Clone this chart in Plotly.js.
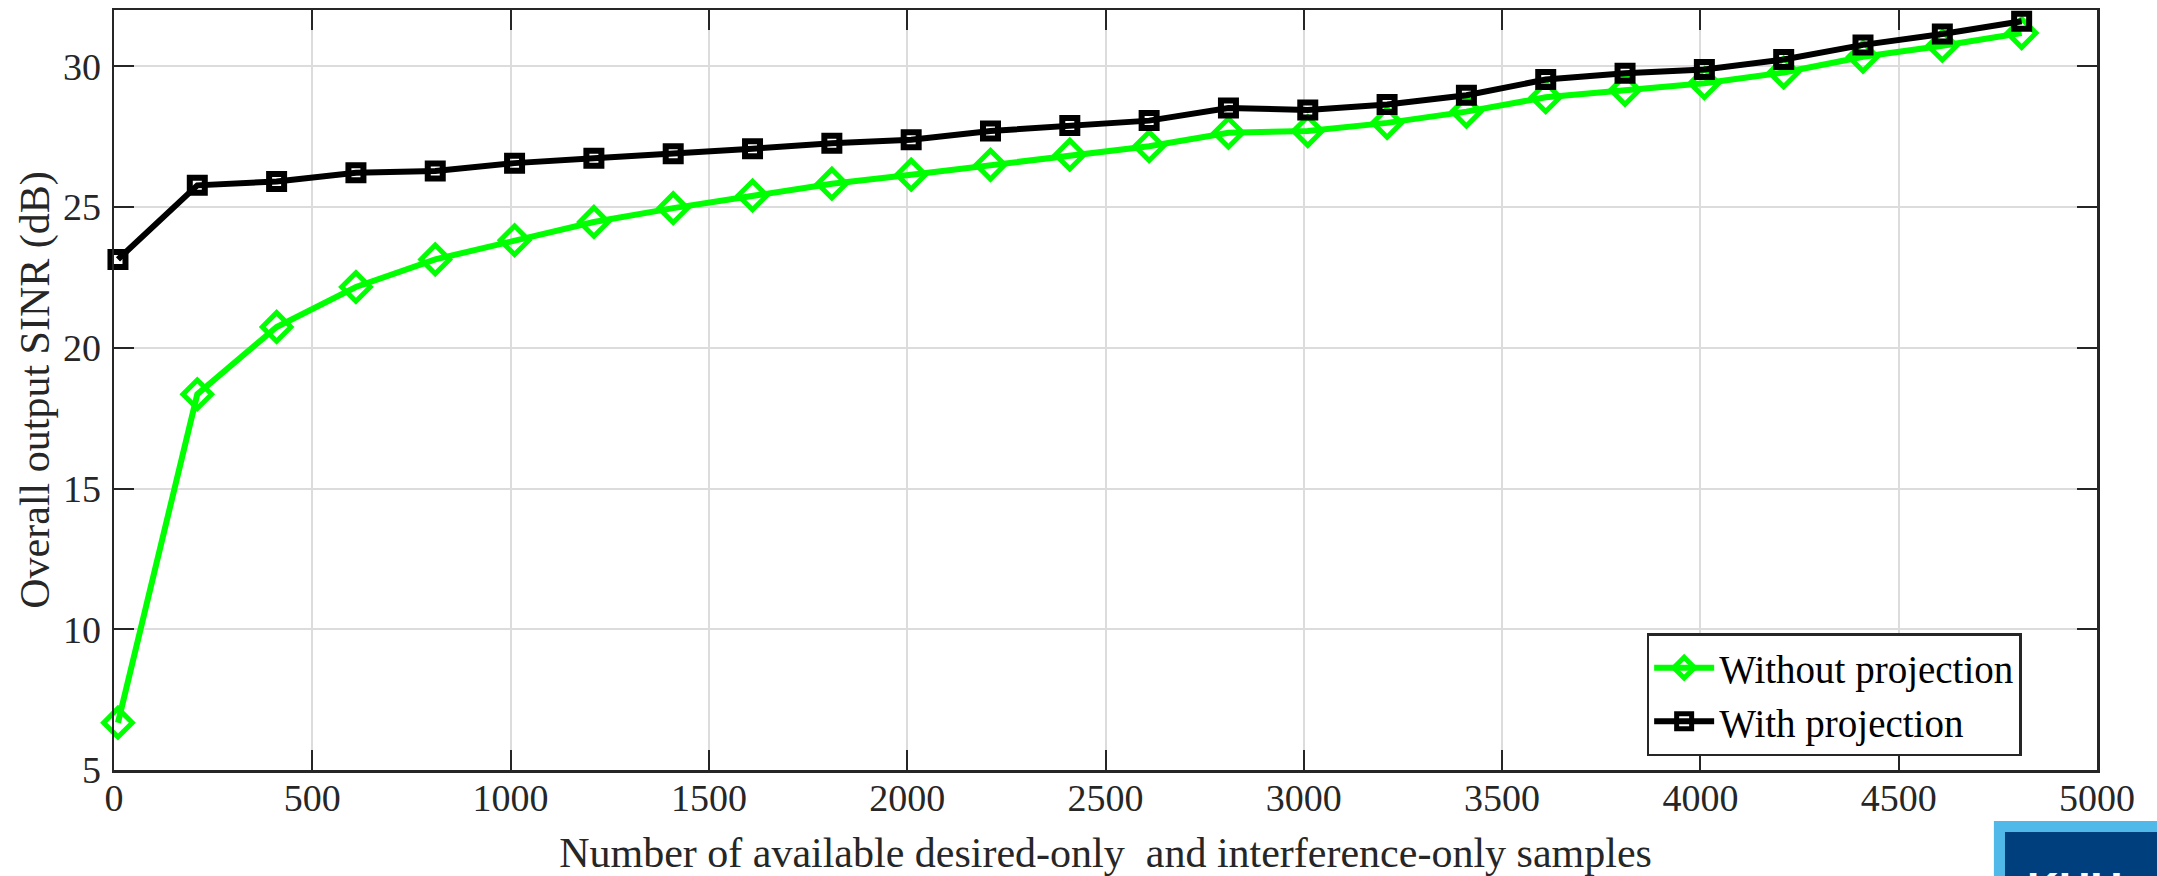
<!DOCTYPE html>
<html>
<head>
<meta charset="utf-8">
<script src="https://cdn.plot.ly/plotly-3.0.1.min.js"></script>
<style>
  html, body { margin: 0; padding: 0; background: #ffffff; }
  #chart { width: 2157px; height: 876px; }
</style>
</head>
<body>
<div id="chart"></div>
<script>
// Number of available samples (x values)
const samples = [10, 210, 410, 610, 810, 1010, 1210, 1410, 1610, 1810, 2010, 2210, 2410,
                 2610, 2810, 3010, 3210, 3410, 3610, 3810, 4010, 4210, 4410, 4610, 4810];

// Overall output SINR (dB)
const withoutProjection = [6.68, 18.35, 20.74, 22.16, 23.14, 23.82, 24.47, 24.96, 25.41, 25.83,
                           26.15, 26.50, 26.86, 27.16, 27.64, 27.70, 27.99, 28.39, 28.90, 29.16,
                           29.40, 29.78, 30.34, 30.73, 31.18];
const withProjection = [23.14, 25.77, 25.91, 26.22, 26.28, 26.56, 26.73, 26.89, 27.07, 27.27,
                        27.39, 27.70, 27.90, 28.07, 28.52, 28.45, 28.64, 28.97, 29.53, 29.75,
                        29.89, 30.24, 30.76, 31.15, 31.60];

const seriesNames = ["Without projection", "With projection"];
const xTicks = [0, 500, 1000, 1500, 2000, 2500, 3000, 3500, 4000, 4500, 5000];
const yTicks = [5, 10, 15, 20, 25, 30];
const xTitle = "Number of available desired-only\u00a0 and interference-only samples";
const yTitle = "Overall output SINR (dB)";

const serif = "Liberation Serif, Times New Roman, serif";
const axisColor = "#262626";

const traces = [
  {
    x: samples, y: withoutProjection, name: seriesNames[0],
    type: "scatter", mode: "lines+markers", cliponaxis: false,
    line: { color: "#00ff00", width: 6 },
    marker: { symbol: "diamond-open", size: 22, color: "#00ff00", line: { color: "#00ff00", width: 5 } }
  },
  {
    x: samples, y: withProjection, name: seriesNames[1],
    type: "scatter", mode: "lines+markers", cliponaxis: false,
    line: { color: "#000000", width: 6 },
    marker: { symbol: "square-open", size: 15, color: "#000000", line: { color: "#000000", width: 6 } }
  }
];

const axisCommon = {
  showline: true, linecolor: axisColor, linewidth: 2.5, mirror: "ticks",
  ticks: "inside", ticklen: 20, tickwidth: 2, tickcolor: axisColor,
  showgrid: true, gridcolor: "#dcdcdc", gridwidth: 2,
  zeroline: false, automargin: false,
  tickfont: { family: serif, size: 38, color: axisColor }
};

const layout = {
  width: 2157, height: 876,
  margin: { l: 114, r: 60, t: 10, b: 106 },
  paper_bgcolor: "#ffffff", plot_bgcolor: "#ffffff",
  showlegend: true,
  xaxis: Object.assign({}, axisCommon, {
    range: [0, 5000], tickvals: xTicks, ticktext: xTicks.map(String),
    ticklabelstandoff: -7,
    title: { text: xTitle, font: { family: serif, size: 42, color: axisColor }, standoff: 27 }
  }),
  yaxis: Object.assign({}, axisCommon, {
    range: [5, 32], tickvals: yTicks, ticktext: yTicks.map(String),
    ticklabelstandoff: 3,
    title: { text: yTitle, font: { family: serif, size: 42, color: axisColor }, standoff: 0 }
  }),
  legend: {
    x: 0.962, y: 0.018, xanchor: "right", yanchor: "bottom",
    bgcolor: "#ffffff", bordercolor: axisColor, borderwidth: 2.5,
    font: { family: serif, size: 39, color: "#000000" },
    itemwidth: 60, tracegroupgap: 0
  },
  shapes: [
    { type: "rect", xref: "paper", yref: "paper", x0: 0.948, x1: 1.05, y0: -0.067, y1: -0.2,
      fillcolor: "#50b9e9", line: { width: 0 }, layer: "above" },
    { type: "rect", xref: "paper", yref: "paper", x0: 0.9536, x1: 1.05, y0: -0.0816, y1: -0.2,
      fillcolor: "#003f7d", line: { width: 0 }, layer: "above" }
  ],
  annotations: [
    { text: "<b>KHU</b>", xref: "paper", yref: "paper", x: 0.9637, y: -0.121,
      xanchor: "left", yanchor: "top", showarrow: false,
      font: { family: "Liberation Sans, Arial, sans-serif", size: 44, color: "#ffffff" } }
  ]
};

Plotly.newPlot("chart", traces, layout, { displayModeBar: false, staticPlot: true });
</script>
</body>
</html>
